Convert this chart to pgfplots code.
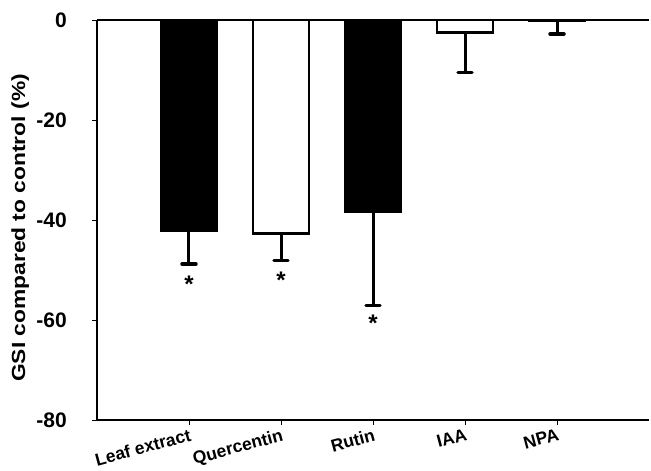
\documentclass[border=0pt]{standalone}
\usepackage{fontspec}
\setmainfont{Liberation Sans}
\usepackage{graphicx}
\usepackage{pgfplots}
\pgfplotsset{compat=1.18}
\begin{document}
\begin{tikzpicture}
\useasboundingbox (-97pt,-51pt) rectangle (554pt,420pt);
\begin{axis}[
  scale only axis, width=552pt, height=400pt,
  xmin=-1, xmax=5, ymin=-80, ymax=0,
  axis x line*=bottom, axis y line*=left,
  axis line style={line width=2.8pt, black},
  xtick={0,1,2,3,4},
  xticklabels={Leaf extract,Quercentin,Rutin,IAA,NPA},
  ytick={-80,-60,-40,-20,0},
  yticklabels={-80,-60,-40,-20,0},
  tick align=outside, major tick length=5pt,
  tick style={line width=0.8pt, black},
  xticklabel style={rotate=15, anchor=north east, inner sep=1pt, yshift=-2pt, xshift=0pt,
    font=\fontsize{17.5}{20}\selectfont\bfseries},
  yticklabel style={font=\fontsize{21}{22}\selectfont\bfseries, inner sep=1pt, xshift=-24pt},
  ylabel={\scalebox{1.2}[1]{GSI compared to control (\%)}},
  ylabel style={at={(axis description cs:-0.139,0.48)}, anchor=center,
    font=\fontsize{19}{20}\selectfont\bfseries},
  extra y ticks={0}, extra y tick labels={},
  extra y tick style={grid=major, major grid style={black, line width=2.6pt}, major tick length=0pt},
  clip=false,
]
\addplot[ybar, bar width=56pt, bar shift=0pt, fill=black, draw=black, line width=2.5pt,
  error bars/.cd, y dir=minus, y explicit, error mark=|,
  error bar style={line width=3pt, black},
  error mark options={line width=3.5pt, mark size=7pt, line cap=round, black}]
  coordinates {(0,-42.2) +- (0,6.6) (2,-38.4) +- (0,18.7)};
\addplot[ybar, bar width=56pt, bar shift=0pt, fill=white, draw=black, line width=2.5pt,
  error bars/.cd, y dir=minus, y explicit, error mark=|,
  error bar style={line width=3pt, black},
  error mark options={line width=3.5pt, mark size=7pt, line cap=round, black}]
  coordinates {(1,-42.7) +- (0,5.4) (3,-2.5) +- (0,8.0) (4,-0.1) +- (0,2.7)};
\addplot[draw=none, mark=none, nodes near coords={*},
  every node near coord/.append style={anchor=center, inner sep=0pt, black,
    font=\fontsize{24}{24}\selectfont\bfseries}]
  coordinates {(0,-52.9) (1,-52.1) (2,-60.7)};
\end{axis}
\end{tikzpicture}
\end{document}
